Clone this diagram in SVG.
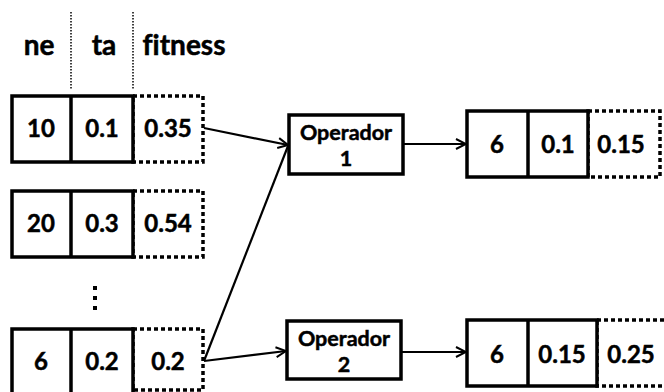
<svg xmlns="http://www.w3.org/2000/svg" width="664" height="392" viewBox="0 0 664 392">
<defs>
<style>
.t{font-family:Lato,"Open Sans","Liberation Sans",sans-serif;font-weight:700;fill:#000;text-anchor:middle;font-variant-ligatures:none;stroke:#000;stroke-width:0.5}
.h{font-size:28px}
.n{font-size:24px}
.o{font-size:21.5px}
.solid{fill:#fff;stroke:#000;stroke-width:3.5}
.dot{fill:none;stroke:#000;stroke-width:3.5;stroke-dasharray:4 3}
.guide{fill:none;stroke:#000;stroke-width:1.5;stroke-dasharray:1.5 1.5}
.conn{fill:none;stroke:#000;stroke-width:2.2}
</style>
<marker id="arr" viewBox="0 0 12 12" refX="11" refY="6" markerWidth="12" markerHeight="12" markerUnits="userSpaceOnUse" orient="auto">
<path d="M1,1 L11,6 L1,11" fill="none" stroke="#000" stroke-width="2"/>
</marker>
</defs>
<g id="header">
<line class="guide" x1="71" y1="12" x2="71" y2="89"/>
<line class="guide" x1="133" y1="12" x2="133" y2="89"/>
<text class="t h" x="39" y="55">ne</text>
<text class="t h" x="104" y="55">ta</text>
<text class="t h" x="184" y="55">fitness</text>
</g>
<g id="row1">
<rect class="dot" x="133" y="96" width="70" height="66"/>
<rect class="solid" x="12" y="96" width="121" height="66"/>
<line class="solid" x1="71" y1="96" x2="71" y2="162"/>
<text class="t n" x="41" y="137">10</text>
<text class="t n" x="102" y="137">0.1</text>
<text class="t n" x="168" y="137">0.35</text>
</g>
<g id="row2">
<rect class="dot" x="133" y="191" width="70" height="66"/>
<rect class="solid" x="12" y="191" width="121" height="66"/>
<line class="solid" x1="71" y1="191" x2="71" y2="257"/>
<text class="t n" x="41" y="232">20</text>
<text class="t n" x="102" y="232">0.3</text>
<text class="t n" x="168" y="232">0.54</text>
</g>
<g id="ellipsis">
<rect x="93" y="286" width="4" height="4"/>
<rect x="93" y="296" width="4" height="4"/>
<rect x="93" y="306" width="4" height="4"/>
</g>
<g id="row3">
<rect class="dot" x="133" y="329" width="70" height="61"/>
<rect class="solid" x="12" y="329" width="121" height="66"/>
<line class="solid" x1="71" y1="329" x2="71" y2="392"/>
<text class="t n" x="41" y="370">6</text>
<text class="t n" x="102" y="370">0.2</text>
<text class="t n" x="168" y="370">0.2</text>
</g>
<g id="op1">
<rect class="solid" x="289" y="115" width="114" height="59"/>
<text class="t o" x="346" y="140">Operador</text>
<text class="t o" x="346" y="166">1</text>
</g>
<g id="op2">
<rect class="solid" x="287" y="321" width="114" height="58"/>
<text class="t o" x="344" y="346">Operador</text>
<text class="t o" x="344" y="372">2</text>
</g>
<g id="out1">
<rect class="dot" x="588" y="111" width="72" height="66"/>
<rect class="solid" x="467" y="111" width="121" height="66"/>
<line class="solid" x1="528" y1="111" x2="528" y2="177"/>
<text class="t n" x="497" y="153">6</text>
<text class="t n" x="558" y="153">0.1</text>
<text class="t n" x="621" y="153">0.15</text>
</g>
<g id="out2">
<rect class="dot" x="597" y="320" width="80" height="66"/>
<rect class="solid" x="467" y="320" width="130" height="66"/>
<line class="solid" x1="528" y1="320" x2="528" y2="386"/>
<text class="t n" x="497" y="363">6</text>
<text class="t n" x="562" y="363">0.15</text>
<text class="t n" x="631" y="363">0.25</text>
</g>
<g id="connectors">
<line class="conn" x1="204" y1="128" x2="288" y2="145" marker-end="url(#arr)"/>
<line class="conn" x1="204" y1="361" x2="288" y2="146"/>
<line class="conn" x1="204" y1="361" x2="286" y2="351" marker-end="url(#arr)"/>
<line class="conn" x1="403" y1="144" x2="466" y2="144" marker-end="url(#arr)"/>
<line class="conn" x1="401" y1="352" x2="466" y2="352" marker-end="url(#arr)"/>
</g>
</svg>
